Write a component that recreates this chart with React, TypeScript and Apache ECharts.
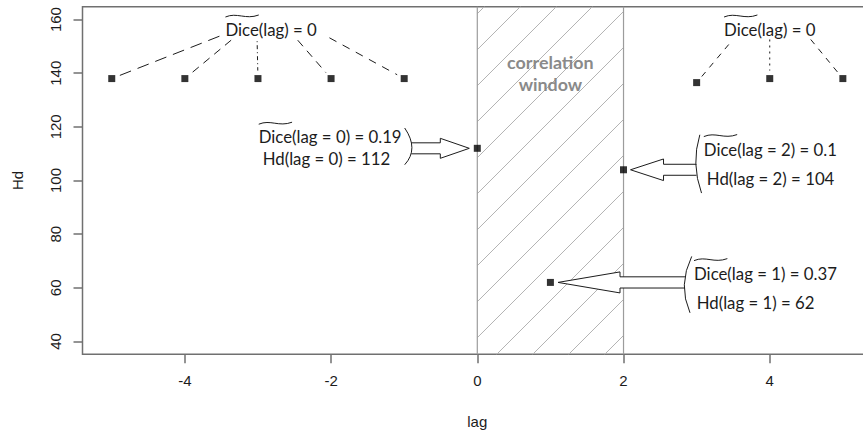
import React, { useEffect, useRef } from 'react';
import * as echarts from 'echarts';

// ---------- data ----------
const lagValues = [-5, -4, -3, -2, -1, 0, 1, 2, 3, 4, 5];
const hdValues = [138, 138, 138, 138, 138, 112, 62, 104, 136.5, 138, 138];
const xTickValues = [-4, -2, 0, 2, 4];
const yTickValues = [40, 60, 80, 100, 120, 140, 160];
const windowRange = [0, 2];
const windowLabelLines = ['correlation', 'window'];
const zeroDiceLagsLeft = [-5, -4, -3, -2, -1];
const zeroDiceLagsRight = [3, 4, 5];
const zeroDiceLabel = 'Dice(lag) = 0';
const calloutLags = [0, 2, 1];
const calloutDice = ['0.19', '0.1', '0.37'];
const xAxisName = 'lag';
const yAxisName = 'Hd';

// ---------- layout / style ----------
const CHART_W = 880;
const X_RANGE = [-5.4, 5.4];
const Y_RANGE = [35.2, 164.8];
const ZERO_LABEL_POS = [[-2.82, 156.3], [4.0, 156.3]];
const WINDOW_LABEL_Y = 140.1;
const CONNECTOR_STARTS = [
  [[-51.7, 6.7], [-40, 10.7], [-14, 11.7], [26.6, 10.7], [58.3, 8.3]],
  [[-41, 15], [0, 10], [41, 10]],
];
const CONNECTOR_DASHES = [
  [[12, 7], [8, 6], [1, 3, 4, 3], [8, 6], [8, 7]],
  [[6, 6], [2, 4], [6, 6]],
];
const CALLOUT_LAYOUT = [
  { dir: 1, gap: 8, head: 29, len: 58, headHalf: 10, shaftHalf: 5.5,
    bracket: [[-6.6, -20.3], [0.6, -0.6], [-6.6, 16.4]],
    anchor: 'right', textDx: -9.7, line1Dy: -11.6, line2Dy: 10.4, indent: 4 },
  { dir: -1, gap: 7, head: 33, len: 66, headHalf: 10.8, shaftHalf: 5.5,
    bracket: [[3.3, -35], [-0.7, -6], [5, 23.3]],
    anchor: 'left', textDx: 7.3, line1Dy: -20.7, line2Dy: 9, indent: 3 },
  { dir: -1, gap: 7.6, head: 62, len: 127, headHalf: 10.5, shaftHalf: 5.6,
    bracket: [[6.7, -26], [-0.7, 2.4], [5, 30.4]],
    anchor: 'left', textDx: 9, line1Dy: -9.3, line2Dy: 20, indent: 2.7 },
];
const HATCH = { step: 36, slope: 1, phase: 19.4 };
const AXIS_FONT = 'Liberation Sans';
const ANNOT_FONT = 'Lato';
const AXIS_GRAY = '#707070';
const INK = '#1c1c1c';

function measure(text: string, family: string, size: number, weight = 'normal') {
  const ctx = document.createElement('canvas').getContext('2d') as CanvasRenderingContext2D;
  ctx.font = `${weight} ${size}px "${family}"`;
  return ctx.measureText(text).width;
}

function hdOf(lag: number) {
  return hdValues[lagValues.indexOf(lag)];
}

export default function App() {
  const ref = useRef<HTMLDivElement>(null);

  useEffect(() => {
    if (!ref.current) return;
    const chart = echarts.init(ref.current, undefined, { renderer: 'svg' });

    const annotSize = (143 / measure('Dice(lag = 0) = 0.19', ANNOT_FONT, 100)) * 100;
    const boldSize = (86.7 / measure('correlation', ANNOT_FONT, 100, 'bold')) * 100;
    const wDice = measure('Dice', ANNOT_FONT, annotSize);
    const w = (t: string) => measure(t, ANNOT_FONT, annotSize);

    const tilde = (x0: number, y: number) => ({
      type: 'bezierCurve',
      shape: {
        x1: x0, y1: y + 1,
        cpx1: x0 + wDice * 0.35, cpy1: y - 4,
        cpx2: x0 + wDice * 0.6, cpy2: y + 4,
        x2: x0 + wDice, y2: y - 1,
      },
      style: { stroke: INK, lineWidth: 1, fill: null },
    });

    const annotText = (text: string, x: number, y: number, align = 'left') => ({
      type: 'text',
      x, y,
      style: {
        text, fill: INK, fontSize: annotSize, fontFamily: ANNOT_FONT,
        align, verticalAlign: 'middle',
      },
    });

    const connectorData: number[][] = [];
    zeroDiceLagsLeft.forEach((lag, k) => connectorData.push([lag, hdOf(lag), 0, k]));
    zeroDiceLagsRight.forEach((lag, k) => connectorData.push([lag, hdOf(lag), 1, k]));

    const option: any = {
      animation: false,
      grid: {
        left: 82.5, top: 6.7, right: CHART_W - 872.1, bottom: 80.7,
        show: true, borderColor: AXIS_GRAY, borderWidth: 1.5,
      },
      xAxis: {
        type: 'value', min: X_RANGE[0], max: X_RANGE[1],
        axisLine: { show: false, onZero: false },
        axisTick: { show: true, length: 9, customValues: xTickValues, lineStyle: { color: AXIS_GRAY, width: 1.5 } },
        axisLabel: { customValues: xTickValues, margin: 19, color: INK, fontSize: 15, fontFamily: AXIS_FONT },
        splitLine: { show: false },
        name: xAxisName, nameLocation: 'middle', nameGap: 60,
        nameTextStyle: { color: INK, fontSize: 15, fontFamily: AXIS_FONT },
      },
      yAxis: {
        type: 'value', min: Y_RANGE[0], max: Y_RANGE[1],
        axisLine: { show: false, onZero: false },
        axisTick: { show: true, length: 9, customValues: yTickValues, lineStyle: { color: AXIS_GRAY, width: 1.5 } },
        axisLabel: { customValues: yTickValues, rotate: 90, margin: 20, color: INK, fontSize: 15, fontFamily: AXIS_FONT },
        splitLine: { show: false },
        name: yAxisName, nameLocation: 'middle', nameGap: 58, nameRotate: 90,
        nameTextStyle: { color: INK, fontSize: 15, fontFamily: AXIS_FONT },
      },
      series: [
        {
          type: 'custom', name: 'window', silent: true, clip: false, z: 1,
          data: [[windowRange[0], windowRange[1], 100]],
          encode: { x: [0, 1], y: 2 },
          renderItem: (params: any, api: any) => {
            const cs = params.coordSys;
            const x0 = api.coord([api.value(0), 100])[0];
            const x1 = api.coord([api.value(1), 100])[0];
            const top = cs.y, bottom = cs.y + cs.height;
            const H = bottom - top;
            const run = H / HATCH.slope;
            const children: any[] = [];
            for (let c = x0 + HATCH.phase - Math.ceil((run + HATCH.phase) / HATCH.step) * HATCH.step; c < x1; c += HATCH.step) {
              const tmin = Math.max(0, (x0 - c) / run);
              const tmax = Math.min(1, (x1 - c) / run);
              if (tmin >= tmax) continue;
              children.push({
                type: 'line',
                shape: { x1: c + tmin * run, y1: bottom - tmin * H, x2: c + tmax * run, y2: bottom - tmax * H },
                style: { stroke: '#b4b4b4', lineWidth: 1 },
              });
            }
            [x0, x1].forEach((x) => children.push({
              type: 'line', shape: { x1: x, y1: top, x2: x, y2: bottom },
              style: { stroke: '#9c9c9c', lineWidth: 1.2 },
            }));
            const cx = (x0 + x1) / 2;
            const cy = api.coord([1, WINDOW_LABEL_Y])[1];
            children.push({
              type: 'text', x: cx, y: cy,
              style: {
                text: windowLabelLines.join('\n'), fill: '#8a8a8a', fontSize: boldSize,
                fontFamily: ANNOT_FONT, fontWeight: 'bold', align: 'center', verticalAlign: 'middle', lineHeight: 22,
              },
            });
            return { type: 'group', children };
          },
        },
        {
          type: 'custom', name: 'zeroLabels', silent: true, clip: false, z: 3,
          data: ZERO_LABEL_POS.map((p, i) => [p[0], p[1], i]),
          encode: { x: 0, y: 1 },
          renderItem: (params: any, api: any) => {
            const [cx, cy] = api.coord([api.value(0), api.value(1)]);
            const wl = w(zeroDiceLabel);
            return {
              type: 'group',
              children: [annotText(zeroDiceLabel, cx, cy, 'center'), tilde(cx - wl / 2, cy - 13.5)],
            };
          },
        },
        {
          type: 'custom', name: 'connectors', silent: true, clip: false, z: 3,
          data: connectorData,
          encode: { x: 0, y: 1 },
          renderItem: (params: any, api: any) => {
            const g = api.value(2), k = api.value(3);
            const [px, py] = api.coord([api.value(0), api.value(1)]);
            const [lx, ly] = api.coord(ZERO_LABEL_POS[g]);
            const off = CONNECTOR_STARTS[g][k];
            const sx = lx + off[0], sy = ly + off[1];
            const dx = px - sx, dy = py - sy;
            const len = Math.hypot(dx, dy);
            const gap = 8;
            return {
              type: 'line',
              shape: { x1: sx, y1: sy, x2: px - (dx / len) * gap, y2: py - (dy / len) * gap },
              style: { stroke: INK, lineWidth: 1, lineDash: CONNECTOR_DASHES[g][k] },
            };
          },
        },
        {
          type: 'custom', name: 'callouts', silent: true, clip: false, z: 4,
          data: calloutLags.map((lag, i) => [lag, hdOf(lag), i]),
          encode: { x: 0, y: 1 },
          renderItem: (params: any, api: any) => {
            const i = api.value(2);
            const lag = api.value(0);
            const L = CALLOUT_LAYOUT[i];
            const [px, py] = api.coord([lag, api.value(1)]);
            const d = L.dir;
            const tipX = px - d * L.gap;
            const baseX = tipX - d * L.head;
            const tailX = tipX - d * L.len;
            const outline = [
              [tailX, py - L.shaftHalf], [baseX, py - L.shaftHalf], [baseX, py - L.headHalf],
              [tipX, py], [baseX, py + L.headHalf], [baseX, py + L.shaftHalf], [tailX, py + L.shaftHalf],
            ];
            const [bt, bm, bb] = L.bracket.map((o) => [tailX + o[0], py + o[1]]);
            const ctrl = [2 * bm[0] - (bt[0] + bb[0]) / 2, 2 * bm[1] - (bt[1] + bb[1]) / 2];
            const line1 = `Dice(lag = ${lag}) = ${calloutDice[i]}`;
            const line2 = `Hd(lag = ${lag}) = ${hdOf(lag)}`;
            const left1 = L.anchor === 'right' ? tailX + L.textDx - w(line1) : tailX + L.textDx;
            const y1 = py + L.line1Dy, y2 = py + L.line2Dy;
            return {
              type: 'group',
              children: [
                { type: 'polygon', shape: { points: outline }, style: { fill: '#fff', stroke: null } },
                { type: 'polyline', shape: { points: outline }, style: { fill: null, stroke: INK, lineWidth: 1 } },
                {
                  type: 'bezierCurve',
                  shape: { x1: bt[0], y1: bt[1], cpx1: ctrl[0], cpy1: ctrl[1], x2: bb[0], y2: bb[1] },
                  style: { fill: null, stroke: INK, lineWidth: 1 },
                },
                annotText(line1, left1, y1),
                tilde(left1, y1 - 13.5),
                annotText(line2, left1 + L.indent, y2),
              ],
            };
          },
        },
        {
          type: 'scatter', name: 'Hd', z: 5,
          symbol: 'rect', symbolSize: 7,
          itemStyle: { color: '#000' },
          data: lagValues.map((x, i) => [x, hdValues[i]]),
          silent: true,
        },
      ],
    };

    chart.setOption(option);
    return () => chart.dispose();
  }, []);

  return (
    <div style={{ position: 'fixed', left: 0, top: 0, width: 863, height: 435, overflow: 'hidden', background: '#fff' }}>
      <div ref={ref} style={{ width: CHART_W, height: 435 }} />
    </div>
  );
}
